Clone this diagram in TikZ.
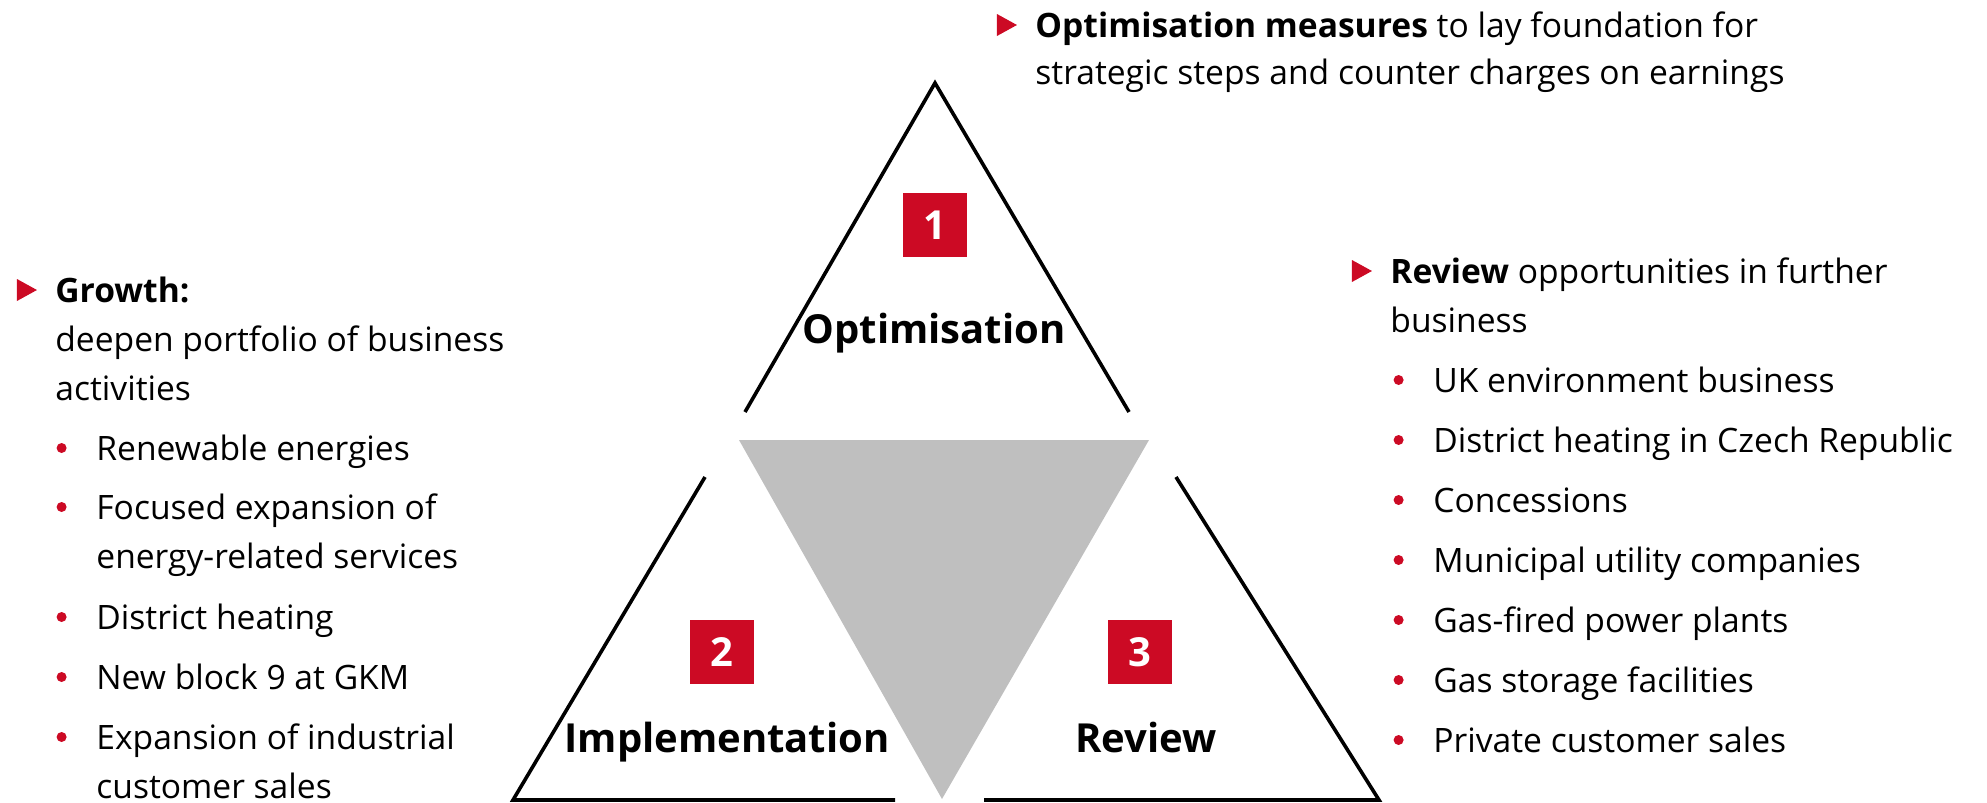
\documentclass[tikz,border=0pt]{standalone}
\usepackage{fontspec}
\setmainfont{Open Sans}
\usetikzlibrary{positioning,shapes.geometric}
\definecolor{ebred}{RGB}{204,10,36}
\definecolor{centregrey}{RGB}{191,191,191}

\begin{document}
\begin{tikzpicture}[x=0.5pt,y=-0.5pt,
    txt/.style={anchor=base west,inner sep=0pt,font=\fontsize{16.8}{20}\selectfont,text height=13.5pt,text depth=1.5pt},
    lead/.style={txt,label={[arrowbul]left:{}}},
    item/.style={txt,label={[dotbul]left:{}}},
    arrowbul/.style={isosceles triangle,isosceles triangle stretches,fill=ebred,inner sep=0pt,minimum height=10pt,minimum width=11pt,label distance=8.5pt},
    dotbul/.style={circle,fill=ebred,inner sep=0pt,minimum size=5pt,label distance=14.5pt},
    numbox/.style={fill=ebred,text=white,inner sep=0pt,minimum size=32pt,font=\bfseries\fontsize{20}{20}\selectfont},
    phase/.style={anchor=base,inner sep=0pt,font=\bfseries\fontsize{20}{24}\selectfont},
    edge/.style={line width=1.8pt}]
    \useasboundingbox (0,0) rectangle (1987,803);

    % the three phases round the grey centre
    \coordinate (a1) at (935,83);
    \coordinate (b1) at (745,412);
    \coordinate (c1) at (1129,412);
    \coordinate (a2) at (705,477);
    \coordinate (b2) at (513,800);
    \coordinate (c2) at (895,800);
    \coordinate (a3) at (1176,477);
    \coordinate (b3) at (1379,800);
    \coordinate (c3) at (984,800);
    \coordinate (v1) at (739,440);
    \coordinate (v2) at (1149,440);
    \coordinate (v3) at (942,799);
    \fill[centregrey] (v1) -- (v2) -- (v3) -- cycle;
    \draw[edge] (b1) -- (a1) -- (c1);
    \draw[edge] (a2) -- (b2) -- (c2);
    \draw[edge] (a3) -- (b3) -- (c3);

    \node[numbox] (n1) at (935,225) {1};
    \node[numbox] (n2) at (722,652) {2};
    \node[numbox] (n3) at (1140,652) {3};
    \node[phase] (p1) at (934,343) {Optimisation};
    \node[phase] (p2) at (727,752) {Implementation};
    \node[phase] (p3) at (1146,752) {Review};

    % top text
    \node[lead] (o1) at (1035,37) {\textbf{Optimisation measures} to lay foundation for};
    \node[txt,below=23.5pt of o1.base west,anchor=base west] (o2) {strategic steps and counter charges on earnings};

    % left text
    \node[lead] (g1) at (55,302) {\textbf{Growth:}};
    \node[txt,below=24.5pt of g1.base west,anchor=base west] (g2) {deepen portfolio of business};
    \node[txt,below=24.5pt of g2.base west,anchor=base west] (g3) {activities};
    \node[item,below right=30pt and 20.5pt of g3.base west,anchor=base west] (g4) {Renewable energies};
    \node[item,below=29.5pt of g4.base west,anchor=base west] (g5) {Focused expansion of};
    \node[txt,below=24.5pt of g5.base west,anchor=base west] (g5b) {energy-related services};
    \node[item,below=30.5pt of g5b.base west,anchor=base west] (g6) {District heating};
    \node[item,below=30pt of g6.base west,anchor=base west] (g7) {New block 9 at GKM};
    \node[item,below=30pt of g7.base west,anchor=base west] (g8) {Expansion of industrial};
    \node[txt,below=24.5pt of g8.base west,anchor=base west] (g8b) {customer sales};

    % right text
    \node[lead] (r1) at (1390,283) {\textbf{Review} opportunities in further};
    \node[txt,below=24.5pt of r1.base west,anchor=base west] (r2) {business};
    \node[item,below right=30pt and 21.5pt of r2.base west,anchor=base west] (r3) {UK environment business};
    \node[item,below=30pt of r3.base west,anchor=base west] (r4) {District heating in Czech Republic};
    \node[item,below=30pt of r4.base west,anchor=base west] (r5) {Concessions};
    \node[item,below=30pt of r5.base west,anchor=base west] (r6) {Municipal utility companies};
    \node[item,below=30pt of r6.base west,anchor=base west] (r7) {Gas-fired power plants};
    \node[item,below=30pt of r7.base west,anchor=base west] (r8) {Gas storage facilities};
    \node[item,below=30pt of r8.base west,anchor=base west] (r9) {Private customer sales};
\end{tikzpicture}
\end{document}
